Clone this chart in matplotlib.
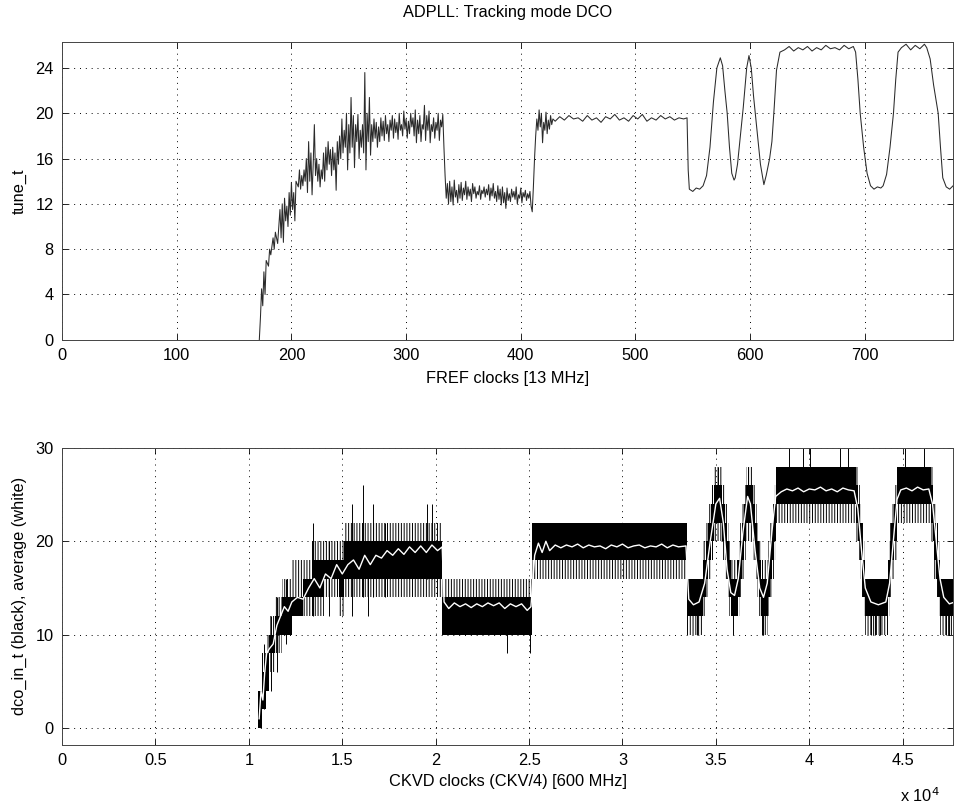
import matplotlib
matplotlib.use('Agg')
import matplotlib.pyplot as plt

plt.rcParams['font.family'] = ['Liberation Sans', 'DejaVu Sans']
plt.rcParams['hatch.linewidth'] = 0.7

# --- top: tune_t vs FREF clocks ---
tune_clk = [172, 173, 174, 175, 176, 177, 178, 180, 181, 182, 184, 185, 186, 188, 189, 190,
            191, 192, 193, 194, 195, 196, 197, 198, 199, 200, 201, 202, 203, 204, 206, 207,
            208, 209, 210, 211, 212, 213, 214, 215, 216, 217, 218, 219, 220, 221, 222, 223,
            224, 225, 226, 227, 228, 229, 230, 231, 232, 233, 234, 235, 236, 237, 238, 239,
            240, 241, 242, 243, 244, 245, 246, 247, 248, 249, 250, 251, 252, 253, 254, 255,
            256, 257, 258, 259, 260, 261, 262, 263, 264, 265, 266, 267, 268, 269, 270, 271,
            272, 273, 274, 275, 276, 277, 278, 279, 280, 281, 282, 283, 284, 285, 286, 287,
            288, 289, 290, 291, 292, 293, 294, 295, 296, 297, 298, 299, 300, 301, 302, 303,
            304, 305, 306, 307, 308, 309, 310, 311, 312, 313, 314, 315, 316, 317, 318, 319,
            320, 321, 322, 323, 324, 325, 326, 327, 328, 329, 330, 331, 332, 333, 334, 335,
            336, 337, 338, 339, 340, 341, 342, 343, 344, 345, 346, 347, 348, 349, 350, 351,
            352, 353, 354, 355, 356, 357, 358, 359, 360, 361, 362, 363, 364, 365, 366, 367,
            368, 369, 370, 371, 372, 373, 374, 375, 376, 377, 378, 379, 380, 381, 382, 383,
            384, 385, 386, 387, 388, 389, 390, 391, 392, 393, 394, 395, 396, 397, 398, 399,
            400, 401, 402, 403, 404, 405, 406, 407, 408, 409, 410, 411, 412, 413, 414, 415,
            416, 417, 418, 419, 420, 421, 422, 423, 424, 425, 426, 427, 428,
            430, 434, 438, 442, 446, 450, 454, 458, 462, 466, 470, 474, 478, 482, 486, 490,
            494, 498, 502, 506, 510, 514, 518, 522, 526, 530, 534, 538, 542, 545,
            546, 547, 550, 553, 556, 559, 562, 565, 568, 571, 574, 576, 578, 580, 582, 584,
            586, 587, 589, 591, 594, 597, 599, 601, 603, 606, 609, 612, 614, 617, 619, 621,
            623, 626, 630, 634, 638, 642, 646, 650, 654, 658, 662, 666, 670, 674, 678, 682,
            686, 690, 692, 694, 696, 699, 702, 705, 708, 711, 714, 716, 719, 722, 725, 727,
            729, 732, 736, 740, 744, 748, 752, 754, 757, 760, 764, 766, 768, 771, 774, 777]
tune_val = [0, 2, 4.5, 3, 6, 4, 7, 6.5, 8, 7.5, 9, 8, 9.5, 8.5, 10, 11.5,
            9, 12, 8.6, 12.5, 10.5, 11.8, 10, 13, 11, 13.9, 11.5, 13, 10.5, 14, 13.5, 15,
            13.3, 14.5, 13.6, 15, 14, 16, 13, 17.5, 14, 16.5, 12.8, 15.5, 19, 14.5, 16, 14,
            15.5, 13.5, 15, 14.2, 16.5, 14, 17, 15, 17.5, 15.5, 16.8, 14.5, 17, 15, 16.5, 13.2,
            17.5, 15.5, 18, 16, 19.5, 16.5, 18.5, 17, 20, 15, 19, 16.5, 21.4, 17, 19.8, 15.2,
            19, 17.5, 19.9, 16, 18.5, 17, 19, 16.5, 23.6, 15, 20, 17.5, 21.4, 16.3, 19, 17.5,
            19.5, 17.8, 19.2, 17, 18.8, 17.5, 19.6, 18, 19.3, 17.6, 19.8, 18.2, 19, 17.5, 19.4, 18.5,
            19.8, 17.8, 19.5, 18.3, 19.2, 17.7, 20, 18.5, 19, 18, 20.2, 18.6, 19.5, 17.8, 19.3, 18.2,
            20, 18.8, 19.6, 18, 20.3, 17.4, 19.4, 18.2, 19.8, 17.5, 19, 18.6, 20.7, 17.6, 19.8, 18.5,
            20.2, 17.4, 19, 18.4, 19.6, 17.8, 19.2, 18.5, 20, 17.6, 19.4, 18.8, 19.9, 17, 14.5, 12.5,
            13.8, 12, 14, 12.2, 13.5, 11.9, 14.1, 12.6, 13.2, 12.1, 13.7, 12.5, 13.9, 12.3, 13.4, 12.8,
            14, 12.4, 13.5, 12.7, 13.3, 12.2, 13.8, 12.9, 13.5, 12.5, 13.1, 12.8, 13.6, 12.4, 13.2, 12.9,
            13.5, 12.6, 13.3, 12.8, 13.7, 12.3, 13.4, 12.7, 13.8, 12.5, 13.1, 12.2, 13.6, 12.4, 13.3, 11.9,
            13.5, 12.1, 13, 11.6, 13.4, 12.3, 12.9, 12.2, 13.3, 12.6, 13.1, 12.4, 13.5, 12, 12.8, 12.5,
            13.4, 12.1, 13, 12.6, 13.2, 12.3, 12.9, 12.5, 13.1, 11.8, 11.3, 13.5, 16, 18, 19.5, 18.5,
            20.3, 18.8, 20, 17.4, 19.2, 18.5, 20.1, 18.2, 19.4, 18.6, 19.8, 19, 19.5,
            19.3, 19.7, 19.4, 19.8, 19.5, 19.6, 19.3, 19.8, 19.4, 19.6, 19.2, 19.7, 19.5, 19.9, 19.4, 19.6,
            19.3, 19.8, 19.5, 19.9, 19.3, 19.6, 19.4, 19.8, 19.5, 19.7, 19.4, 19.6, 19.5, 19.6,
            15, 13.3, 13.1, 13.4, 13.3, 13.6, 14.5, 17, 21, 24, 24.9, 24.2, 22, 20, 17, 14.7,
            14.1, 14.3, 15.5, 17.5, 20.5, 24, 25.1, 24, 21.5, 18.5, 15.5, 13.7, 14.5, 16, 17.5, 20.5,
            23.8, 25.4, 25.6, 25.9, 25.5, 25.8, 25.6, 25.9, 25.5, 25.8, 25.6, 26, 25.7, 25.8, 25.6, 26,
            25.7, 25.9, 25.4, 23, 20, 17, 14.7, 13.6, 13.3, 13.5, 13.4, 13.6, 14.6, 17, 20, 23,
            25.4, 25.8, 26.1, 25.6, 26, 25.7, 26.1, 25.8, 24.8, 22.5, 20, 17, 14.3, 13.5, 13.3, 13.6]

# --- bottom: dco_in_t band (black) and its average (white) vs CKVD clocks ---
band_x = [10500, 10700, 10900, 11100, 11400, 11800, 12300, 12900, 13400, 14000, 14800, 15100,
          20350, 25170, 33480,
          34300, 34450, 34600, 34750, 34900, 35350, 35480, 35580, 35680, 35800,
          36200, 36300, 36400, 36500, 36600, 37000, 37100, 37200, 37300, 37400,
          37800, 37900, 38000, 38100, 38200,
          42500, 42600, 42700, 42800, 42900, 43000,
          44200, 44300, 44400, 44550, 44700,
          46500, 46600, 46700, 46800, 46900, 47000, 47900]
solid_lo = [0, 2, 4, 8, 10, 10, 12, 14, 14, 16, 14, 16,
            10, 18, 12,
            14, 16, 18, 20, 22, 20, 18, 16, 14, 12,
            14, 16, 18, 20, 22, 20, 18, 16, 14, 12,
            14, 16, 18, 20, 24,
            22, 20, 18, 16, 14, 12,
            14, 16, 18, 20, 24,
            22, 20, 18, 16, 14, 12, 12]
solid_hi = [4, 6, 8, 10, 12, 14, 14, 16, 18, 18, 18, 20,
            14, 22, 16,
            18, 20, 22, 24, 26, 24, 22, 20, 18, 16,
            18, 20, 22, 24, 26, 24, 22, 20, 18, 16,
            18, 20, 22, 24, 28,
            26, 24, 22, 20, 18, 16,
            18, 20, 22, 24, 28,
            26, 24, 22, 20, 18, 16, 16]
dith_lo = [0, 2, 4, 6, 8, 10, 12, 12, 12, 14, 12, 14,
           10, 16, 10,
           12, 14, 16, 18, 20, 18, 16, 14, 12, 12,
           12, 14, 16, 18, 20, 18, 16, 14, 12, 10,
           12, 14, 16, 18, 22,
           20, 18, 16, 14, 12, 10,
           12, 14, 16, 18, 22,
           20, 18, 16, 14, 12, 10, 10]
dith_hi = [4, 8, 10, 12, 14, 16, 18, 18, 20, 20, 20, 22,
           16, 22, 16,
           20, 22, 24, 26, 28, 26, 24, 22, 20, 18,
           20, 22, 24, 26, 28, 26, 24, 22, 20, 18,
           20, 22, 24, 26, 28,
           28, 26, 24, 22, 20, 16,
           20, 22, 24, 26, 28,
           28, 26, 24, 22, 20, 16, 16]

spike_x = [10800, 11200, 11500, 12000, 13440, 14300, 15530, 16120, 16390, 16660, 17300,
           19550, 19800, 23830, 25070, 34000, 35140, 35900, 36740, 37500, 38890, 39640,
           40060, 41670, 42050, 43300, 43500, 43800, 45150, 46120, 47300, 47500]
spike_lo = [2, 4, 6, 9, 12, 12, 12, 14, 12, 14, 14,
            16, 16, 8, 8, 10, 24, 10, 24, 10, 26, 26,
            26, 26, 26, 10, 10, 10, 26, 26, 10, 10]
spike_hi = [9, 12, 14, 16, 22, 20, 24, 26, 20, 24, 22,
            24, 24, 12, 14, 14, 28, 14, 28, 14, 30, 30,
            30, 30, 30, 14, 14, 14, 30, 30, 14, 14]

avg_x = [10550, 10650, 10750, 10850, 10950, 11100, 11300, 11500, 11700, 11900, 12100, 12300,
         12600, 12900, 13200, 13500, 13800, 14100, 14400, 14700, 15000, 15300, 15600, 15900,
         16200, 16500, 16800, 17100, 17400, 17700, 18000, 18300, 18600, 18900, 19200, 19500,
         19800, 20100, 20350, 20450, 20700, 21000, 21300, 21600, 21900, 22200, 22500, 22800,
         23100, 23400, 23700, 24000, 24300, 24600, 24900, 25100, 25300, 25500, 25700, 25900,
         26100, 26400, 26700, 27000, 27300, 27600, 27900, 28200, 28500, 28800, 29100, 29400,
         29700, 30000, 30300, 30600, 30900, 31200, 31500, 31800, 32100, 32400, 32700, 33000,
         33400, 33550, 33800, 34100, 34400, 34700, 35000, 35200, 35400, 35600, 35800, 36000,
         36200, 36450, 36700, 36850, 37100, 37350, 37550, 37750, 38000, 38200, 38500, 38800,
         39100, 39400, 39700, 40000, 40300, 40600, 40900, 41200, 41500, 41800, 42100, 42400,
         42600, 42800, 43000, 43300, 43700, 44100, 44300, 44500, 44700, 44900, 45200, 45500,
         45800, 46100, 46400, 46600, 46800, 47000, 47200, 47500, 47800]
avg_val = [1, 4, 3, 6, 8, 8.5, 9, 11, 12, 13, 12.5, 13.5,
           14, 13.8, 15, 16, 15, 16.5, 16, 17.5, 16.5, 17.5, 18, 17,
           18.5, 17.5, 18.5, 18.2, 19, 18.5, 19.2, 18.6, 19.4, 18.8, 19.5, 18.8,
           19.6, 19, 19.4, 13.5, 12.8, 13.4, 13, 13.3, 12.9, 13.3, 13, 13.4,
           13.1, 13.4, 12.8, 13.3, 13, 13.3, 12.6, 13, 18.5, 19.8, 18.8, 20,
           19, 19.6, 19.3, 19.6, 19.4, 19.7, 19.3, 19.6, 19.4, 19.5, 19.2, 19.6,
           19.4, 19.7, 19.3, 19.5, 19.6, 19.3, 19.5, 19.4, 19.7, 19.3, 19.6, 19.4,
           19.5, 13.8, 13.2, 13.5, 15.5, 20, 24, 24.6, 22, 17, 14.5, 14.2,
           16, 21, 24.8, 24, 19, 15, 14, 15.5, 21, 24.8, 25.3, 25.6,
           25.4, 25.7, 25.3, 25.6, 25.5, 25.8, 25.4, 25.6, 25.3, 25.7, 25.5, 25.4,
           23.5, 19, 15, 13.5, 13.2, 13.5, 15.5, 20, 24.5, 25.5, 25.7, 25.4,
           25.8, 25.5, 25.6, 24, 20, 16, 14, 13.3, 13.5]

top_xticks = [0, 100, 200, 300, 400, 500, 600, 700]
top_yticks = [0, 4, 8, 12, 16, 20, 24]
bot_xticks = [0, 5000, 10000, 15000, 20000, 25000, 30000, 35000, 40000, 45000]
bot_xlabels = ['0', '0.5', '1', '1.5', '2', '2.5', '3', '3.5', '4', '4.5']
bot_yticks = [0, 10, 20, 30]

fs = 11.8
fig = plt.figure(figsize=(9.55, 8.07), dpi=100)
ax1 = fig.add_axes([0.065, 0.579, 0.933, 0.369])
ax2 = fig.add_axes([0.065, 0.077, 0.933, 0.368])


def style(ax):
    ax.grid(True, linestyle=(0, (1, 5)), color='k', linewidth=0.7)
    ax.tick_params(direction='in', length=4, width=0.6, labelsize=fs, colors='k',
                   top=True, right=True, pad=6)
    for s in ax.spines.values():
        s.set_linewidth(0.7)
        s.set_color('#444444')


ax1.plot(tune_clk, tune_val, color='#2a2a2a', linewidth=0.75)
ax1.set_xlim(0, 777)
ax1.set_ylim(0, 26.3)
ax1.set_xticks(top_xticks)
ax1.set_yticks(top_yticks)
style(ax1)
ax1.set_title('ADPLL: Tracking mode DCO', fontsize=fs, pad=18)
ax1.set_xlabel('FREF clocks [13 MHz]', fontsize=fs, labelpad=6)
ax1.set_ylabel('tune_t', fontsize=fs, labelpad=6)

ax2.fill_between(band_x, dith_lo, dith_hi, step='post', facecolor='none',
                 edgecolor='k', linewidth=0, hatch='||||||')
ax2.fill_between(band_x, solid_lo, solid_hi, step='post', color='k', linewidth=0)
ax2.vlines(spike_x, spike_lo, spike_hi, colors='k', linewidth=0.7)
ax2.plot(avg_x, avg_val, color='white', linewidth=1.0)
ax2.set_xlim(0, 47700)
ax2.set_ylim(-1.8, 30)
ax2.set_xticks(bot_xticks)
ax2.set_xticklabels(bot_xlabels)
ax2.set_yticks(bot_yticks)
style(ax2)
ax2.set_xlabel('CKVD clocks (CKV/4) [600 MHz]', fontsize=fs, labelpad=4)
ax2.set_ylabel('dco_in_t (black), average (white)', fontsize=fs, labelpad=6)
fig.text(0.963, 0.003, 'x 10$^{4}$', fontsize=fs, ha='center', va='bottom')

fig.savefig('out.png', dpi=100)
